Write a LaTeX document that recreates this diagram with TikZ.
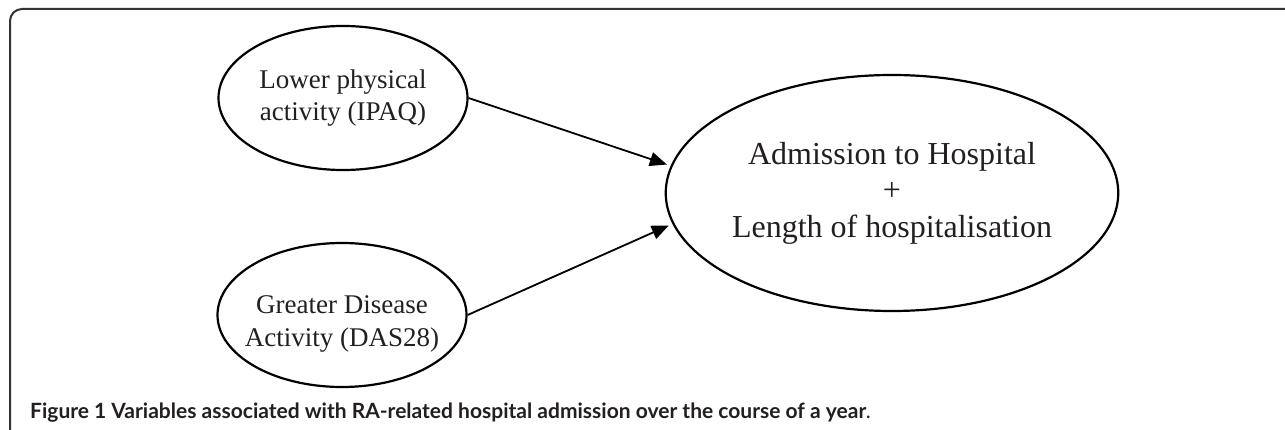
\documentclass[tikz,border=0pt]{standalone}
\usepackage{fontspec}
\setmainfont{Liberation Serif}
\newfontfamily\capfont{Lato}
\usetikzlibrary{shapes.geometric,arrows.meta}
\definecolor{ink}{HTML}{231F20}
\begin{document}
\begin{tikzpicture}[x=1pt,y=-1pt,
  oval/.style={draw=black, line width=2.2pt, ellipse, inner sep=0pt, align=center, text=ink},
  smalloval/.style={oval, minimum width=249pt, minimum height=144pt, font=\fontsize{27}{32}\selectfont},
  bigoval/.style={oval, minimum width=384pt, minimum height=236pt, font=\fontsize{32}{36.5}\selectfont},
  inlabel/.style={align=center, text=ink, font=\fontsize{27}{33}\selectfont},
  link/.style={line width=1.8pt, -{Triangle[length=17pt,width=14pt]}, shorten >=4pt},
  captext/.style={anchor=base west, inner sep=0pt, text=ink, font=\capfont\bfseries\fontsize{21}{25}\selectfont}]
\useasboundingbox (0,0) rectangle (1285,430);
\fill[white] (0,0) rectangle (1285,430);
\draw[line width=2pt, black!80, rounded corners=12pt] (10,431) -- (10,9) -- (1286,9);
\node[smalloval] (lpa) at (343,98) {Lower physical\\activity (IPAQ)};
\node[smalloval, label={[inlabel, yshift=-9pt]center:{Greater Disease\\Activity (DAS28)}}] (gda) at (342,315) {};
\node[bigoval] (adm) at (892,193) {Admission to Hospital\\+\\Length of hospitalisation};
\draw[link] (lpa.east) -- (adm.173);
\draw[link] (gda.east) -- (adm.188);
\node[captext] (cap) at (30,418) {Figure 1 Variables associated with RA-related hospital admission over the course of a year{\mdseries.}};
\end{tikzpicture}
\end{document}
